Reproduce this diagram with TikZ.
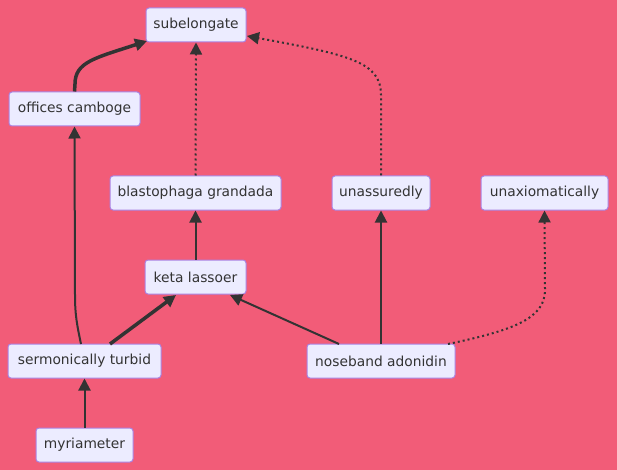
\documentclass[tikz,border=0pt]{standalone}
\usepackage{fontspec}
\setmainfont{DejaVu Sans}
\usetikzlibrary{arrows.meta}
\definecolor{bgred}{RGB}{242,92,120}
\definecolor{boxfill}{RGB}{236,236,255}
\definecolor{boxline}{RGB}{170,130,225}
\definecolor{edgegray}{RGB}{51,51,51}
\tikzset{
  box/.style = {draw = boxline, fill = boxfill, rounded corners = 3pt, line width = 1pt,
    minimum height = 34pt, inner sep = 0pt, text = edgegray,
    font = \fontsize{13.8}{16}\selectfont},
  link/.style = {draw = edgegray, line width = 2pt, -{Triangle[length = 12pt, width = 12pt]}},
  thicklink/.style = {link, line width = 3.5pt},
  dotlink/.style = {link, dash pattern = on 2pt off 3pt},
}

\begin{document}
\begin{tikzpicture} [x = 1pt, y = -1pt]
\fill[bgred] (0, 0) rectangle (617, 470);
\useasboundingbox (0, 0) rectangle (617, 470);
\node[box, minimum width = 100pt] (sub) at (196, 25){subelongate};
\node[box, minimum width = 131pt] (off) at (74.5, 109){offices camboge};
\node[box, minimum width = 171pt] (bla) at (195.5, 193){blastophaga grandada};
\node[box, minimum width = 98pt] (una) at (381, 193){unassuredly};
\node[box, minimum width = 127pt] (unx) at (544.5, 193){unaxiomatically};
\node[box, minimum width = 101pt] (ket) at (195.5, 277){keta lassoer};
\node[box, minimum width = 153pt] (ser) at (84.5, 361){sermonically turbid};
\node[box, minimum width = 148pt] (nos) at (381, 361){noseband adonidin};
\node[box, minimum width = 97pt] (myr) at (84.5, 445){myriameter};
\coordinate (subin) at (147, 41);
\coordinate (subout) at (247, 36);
\coordinate (ketl) at (176, 295);
\coordinate (ketr) at (230, 295);
\draw[thicklink] (off.north) -- (75, 84) .. controls (75, 62) and (95, 58) .. (subin);
\draw[dotlink] (bla.north) -- (sub.south);
\draw[dotlink] (una.north) -- (381, 95) .. controls (381, 62) and (350, 55) .. (subout);
\draw[link] (ket.north) -- (bla.south);
\draw[link] (81, 344) .. controls (77, 325) and (75, 315) .. (75, 295) -- (off.south);
\draw[thicklink] (110, 344) -- (ketl);
\draw[link] (339, 344) -- (ketr);
\draw[link] (nos.north) -- (una.south);
\draw[dotlink] (448, 344) .. controls (515, 330) and (545, 318) .. (545, 290) -- (unx.south);
\draw[link] (myr.north) -- (ser.south);
\end{tikzpicture}
\end{document}
